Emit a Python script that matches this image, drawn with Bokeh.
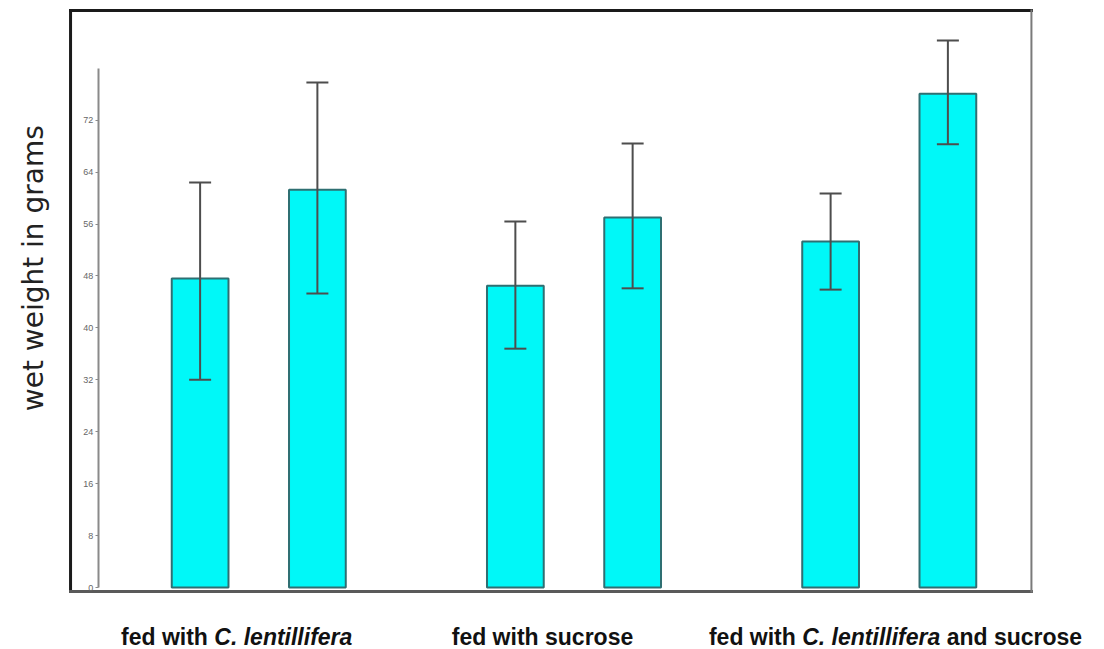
import math
from bokeh.plotting import figure
from bokeh.models import (ColumnDataSource, Range1d, LinearAxis, FixedTicker,
                          Whisker, TeeHead, Label)
from bokeh.embed import file_html
from bokeh.resources import INLINE

# ---------------- data ----------------
categories = ["fed with C. lentillifera", "fed with sucrose",
              "fed with C. lentillifera and sucrose"]
# (text, italic) pieces of each category label
category_parts = [
    [("fed with ", False), ("C. lentillifera", True)],
    [("fed with sucrose", False)],
    [("fed with ", False), ("C. lentillifera", True), (" and sucrose", False)],
]
bar_group = [0, 0, 1, 1, 2, 2]
bar_side = [-1, 1, -1, 1, -1, 1]
means = [47.6, 61.3, 46.5, 57.0, 53.3, 76.1]
err_upper = [62.4, 77.8, 56.4, 68.4, 60.7, 84.3]
err_lower = [32.0, 45.3, 36.8, 46.1, 45.9, 68.3]
y_ticks = [0, 8, 16, 24, 32, 40, 48, 56, 64, 72]
y_label = "wet weight in grams"

# ---------------- layout ----------------
HALF_GAP = 0.186
label_shift = [-0.07, -0.10, 0.02]
xs = [g + s * HALF_GAP for g, s in zip(bar_group, bar_side)]

# plot box (in data units of the full-canvas frame)
BOX_L, BOX_R, BOX_B, BOX_T = -0.597, 2.451, -0.616, 88.9

p = figure(width=1104, height=649,
           x_range=Range1d(-0.8192, 2.6828), y_range=Range1d(-9.553, 90.45),
           output_backend="svg", toolbar_location=None,
           x_axis_location=None, y_axis_location=None,
           min_border_left=0, min_border_right=0,
           min_border_top=0, min_border_bottom=0,
           background_fill_color="white", border_fill_color="white",
           outline_line_color=None)
p.grid.visible = False

# box around the plotting area
p.segment(x0=[BOX_L, BOX_L, BOX_L, BOX_R], y0=[BOX_T, BOX_B, BOX_B, BOX_B],
          x1=[BOX_R, BOX_L, BOX_R, BOX_R], y1=[BOX_T, BOX_T, BOX_B, BOX_T],
          line_color=["#1a1a1a", "#1a1a1a", "#5a5a5a", "#7a7a7a"],
          line_width=[3, 3, 3, 2], line_cap="square")

yax = LinearAxis(fixed_location=-0.509, ticker=FixedTicker(ticks=y_ticks),
                 bounds=(0, 80),
                 axis_line_color="#8a8a8a", axis_line_width=2,
                 major_tick_line_color="#8a8a8a", major_tick_out=3,
                 major_tick_in=0, minor_tick_line_color=None,
                 major_label_text_font_size="9px",
                 major_label_text_color="#666666",
                 major_label_standoff=2)
p.add_layout(yax, "left")

src = ColumnDataSource(dict(x=xs, top=means, upper=err_upper, lower=err_lower))
p.vbar(x="x", top="top", bottom=0, width=0.180, source=src,
       fill_color="#00F8F8", line_color="#2F6F72", line_width=2)

head_kw = dict(size=22, line_color="#4d4d4d", line_width=2)
p.add_layout(Whisker(base="x", upper="upper", lower="lower", source=src,
                     line_color="#4d4d4d", line_width=2, level="overlay",
                     upper_head=TeeHead(**head_kw),
                     lower_head=TeeHead(**head_kw)))

# y-axis title
p.add_layout(Label(x=-0.7145, y=49.2, text=y_label, angle=math.pi / 2,
                   text_align="center", text_baseline="middle",
                   text_font="DejaVu Sans", text_font_size="28px",
                   text_color="#222222"))

# category labels with mixed italic
W = {' ': 278, 'a': 556, 'b': 611, 'c': 556, 'd': 611, 'e': 556, 'f': 333,
     'g': 611, 'h': 611, 'i': 278, 'l': 278, 'n': 611, 'o': 611, 'r': 389,
     's': 556, 't': 333, 'u': 611, 'w': 778, 'C': 722, '.': 278}
FS = 23


def tw(s):
    return sum(W.get(ch, 556) for ch in s) * FS / 1000.0


for gi, parts in enumerate(category_parts):
    total = sum(tw(t) for t, _ in parts)
    off = -total / 2.0
    for text, ital in parts:
        lead = len(text) - len(text.lstrip(' '))
        off_draw = off + tw(' ' * lead)
        p.add_layout(Label(x=gi + label_shift[gi], y=-7.55,
                           x_offset=off_draw,
                           text=text.strip(' '), text_align="left",
                           text_baseline="alphabetic",
                           text_font="Liberation Sans",
                           text_font_style="bold italic" if ital else "bold",
                           text_font_size=f"{FS}px", text_color="#111111"))
        off += tw(text)

open("out.html", "w").write(file_html(p, INLINE))
